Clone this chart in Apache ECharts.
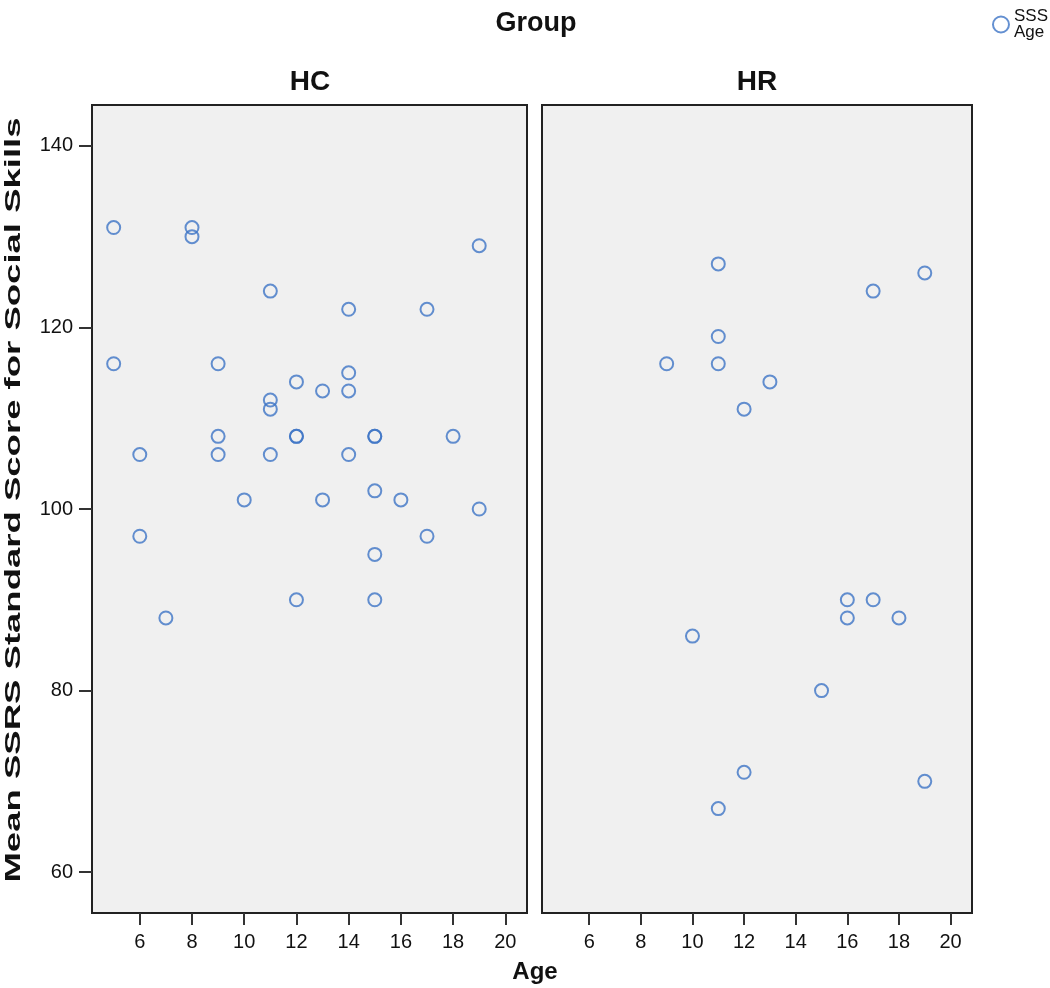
<!DOCTYPE html>
<html>
<head>
<meta charset="utf-8">
<script src="https://cdn.jsdelivr.net/npm/echarts@6/dist/echarts.min.js"></script>
<style>
  html, body { margin: 0; padding: 0; background: #fff; }
  #chart { width: 1050px; height: 988px; }
</style>
</head>
<body>
<div id="chart"></div>
<script>
  // HC group (age, score)
  var hcAge   = [5, 8, 8, 19, 11, 14, 17, 5, 9, 14, 12, 13, 14, 11, 11, 12, 12, 15, 15, 9, 18, 6, 9, 11, 14, 10, 13, 15, 16, 19, 6, 17, 15, 12, 15, 7]
  var hcScore = [131, 131, 130, 129, 124, 122, 122, 116, 116, 115, 114, 113, 113, 112, 111, 108, 108, 108, 108, 108, 108, 106, 106, 106, 106, 101, 101, 102, 101, 100, 97, 97, 95, 90, 90, 88]
  // HR group (age, score)
  var hrAge   = [11, 19, 17, 11, 9, 11, 13, 12, 16, 17, 16, 18, 10, 15, 12, 19, 11]
  var hrScore = [127, 126, 124, 119, 116, 116, 114, 111, 90, 90, 88, 88, 86, 80, 71, 70, 67]
  // tick labels
  var ageTicks   = [6, 8, 10, 12, 14, 16, 18, 20]
  var scoreTicks = [60, 80, 100, 120, 140]

  function pairs (xs, ys) {
    return xs.map(function (x, i) { return [x, ys[i]] })
  }

  var font = '"Liberation Sans", Arial, sans-serif'
  var ringColor = '#3d74c6'

  function makeX (idx) {
    return {
      gridIndex: idx,
      type: 'value',
      min: 4.17,
      max: 20.83,
      axisLine: { show: false },
      splitLine: { show: false },
      axisTick: {
        show: true, inside: false, length: 12,
        customValues: ageTicks,
        lineStyle: { color: '#333', width: 2 }
      },
      axisLabel: {
        customValues: ageTicks,
        margin: 19,
        color: '#111',
        fontSize: 20,
        fontFamily: font
      }
    }
  }

  function makeY (idx, showLabels) {
    return {
      gridIndex: idx,
      type: 'value',
      min: 55.5,
      max: 144.5,
      axisLine: { show: false },
      splitLine: { show: false },
      axisTick: {
        show: showLabels, length: 13,
        customValues: scoreTicks,
        lineStyle: { color: '#333', width: 2 }
      },
      axisLabel: {
        show: showLabels,
        customValues: scoreTicks,
        margin: 19,
        color: '#111',
        fontSize: 20,
        fontFamily: font
      }
    }
  }

  function makeSeries (idx, data) {
    return {
      name: 'SSS Age',
      type: 'scatter',
      xAxisIndex: idx,
      yAxisIndex: idx,
      symbol: 'circle',
      symbolSize: 13,
      itemStyle: { color: 'rgba(0,0,0,0)', borderColor: ringColor, borderWidth: 2 },
      data: data
    }
  }

  var panel = {
    top: 105, height: 808, show: true, backgroundColor: '#f0f0f0',
    borderColor: '#222', borderWidth: 2,
    outerBoundsMode: 'none', containLabel: false
  }

  var chart = echarts.init(document.getElementById('chart'))
  chart.setOption({
    backgroundColor: '#fff',
    animation: false,
    textStyle: { fontFamily: font },
    legend: {
      data: [{ name: 'SSS Age', icon: 'circle', itemStyle: { color: 'rgba(0,0,0,0)', borderColor: ringColor, borderWidth: 2 } }],
      right: 0,
      top: 2,
      itemWidth: 16,
      itemHeight: 16,
      itemGap: 2,
      padding: [6, 2, 2, 2],
      formatter: function () { return 'SSS\nAge' },
      textStyle: { color: '#111', fontSize: 17, lineHeight: 16, fontFamily: font }
    },
    grid: [
      Object.assign({ left: 92, width: 435 }, panel),
      Object.assign({ left: 542, width: 430 }, panel)
    ],
    xAxis: [makeX(0), makeX(1)],
    yAxis: [makeY(0, true), makeY(1, false)],
    graphic: [
      { type: 'text', x: 536, y: 24, style: { text: 'Group', fill: '#111', font: 'bold 27px ' + font, align: 'center', verticalAlign: 'middle' } },
      { type: 'text', x: 310, y: 82, style: { text: 'HC', fill: '#111', font: 'bold 28px ' + font, align: 'center', verticalAlign: 'middle' } },
      { type: 'text', x: 757, y: 82, style: { text: 'HR', fill: '#111', font: 'bold 28px ' + font, align: 'center', verticalAlign: 'middle' } },
      { type: 'text', x: 535, y: 972, style: { text: 'Age', fill: '#111', font: 'bold 24px ' + font, align: 'center', verticalAlign: 'middle' } },
      { type: 'text', x: 14, y: 500, rotation: Math.PI / 2, scaleX: 1.66,
        style: { text: 'Mean SSRS Standard Score for Social Skills', fill: '#111', font: 'bold 22px ' + font, align: 'center', verticalAlign: 'middle' } }
    ],
    series: [
      makeSeries(0, pairs(hcAge, hcScore)),
      makeSeries(1, pairs(hrAge, hrScore))
    ]
  })
</script>
</body>
</html>
